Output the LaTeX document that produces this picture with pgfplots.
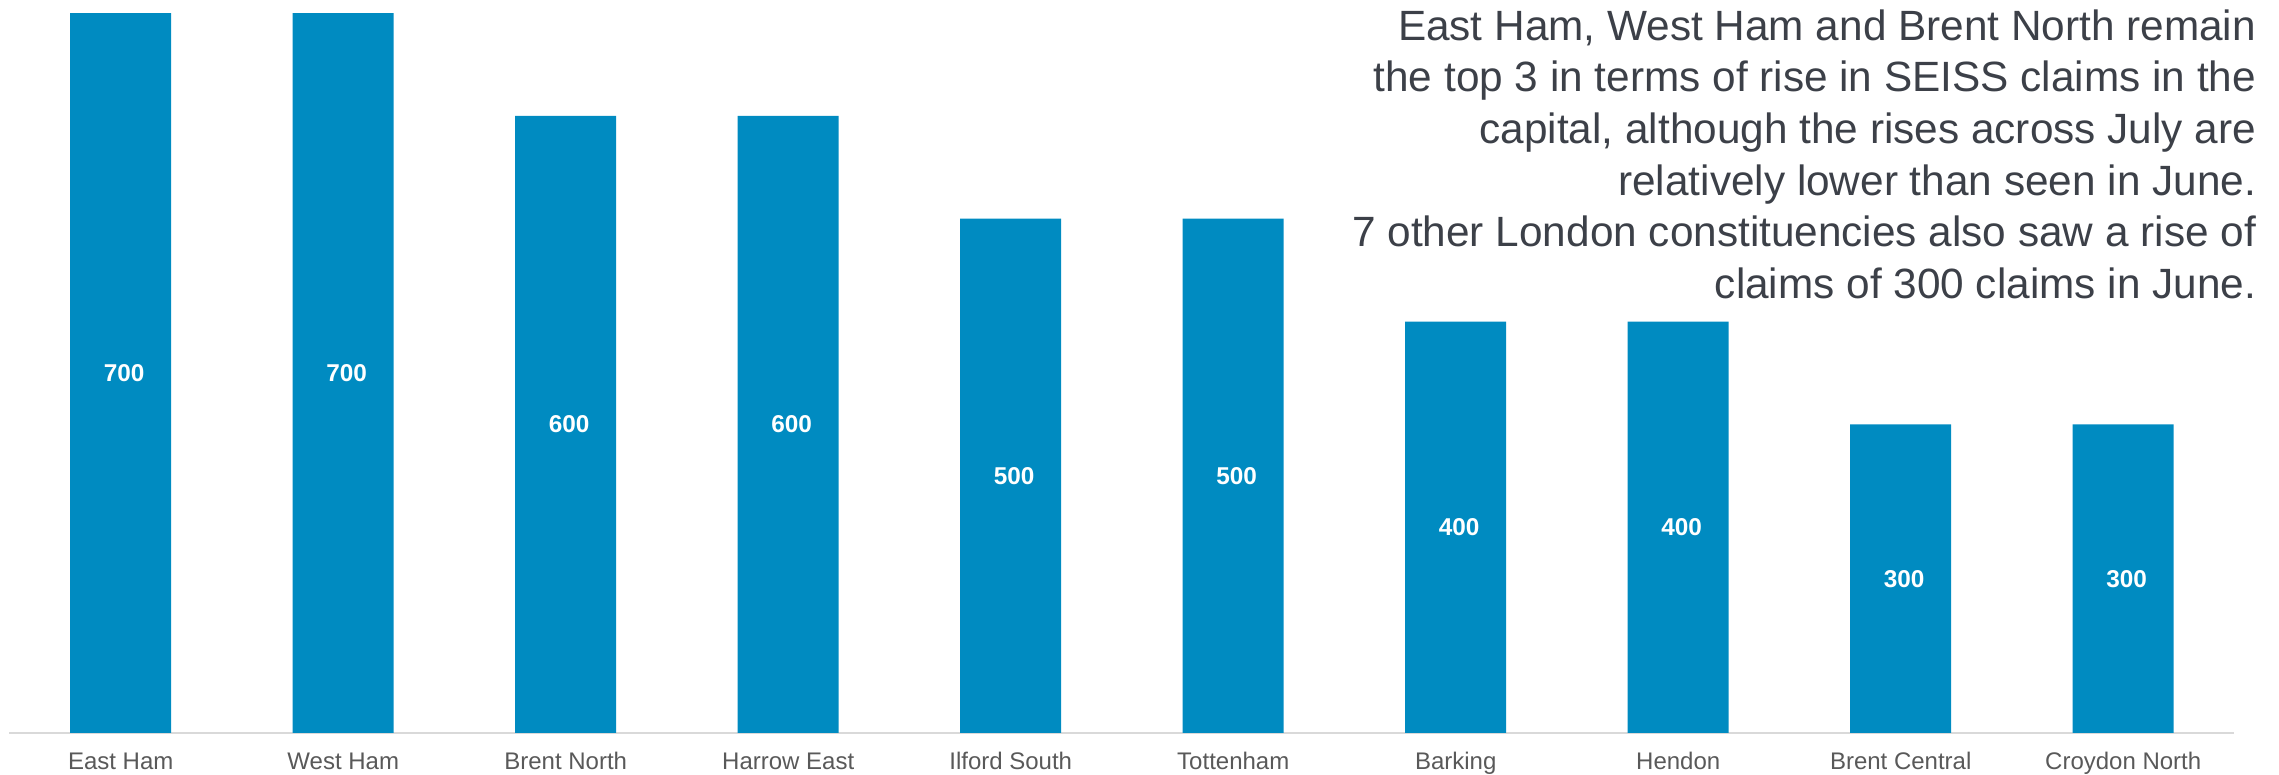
\documentclass[border=0pt]{standalone}
\usepackage{pgfplots}
\pgfplotsset{compat=1.18}
\usepackage{fontspec}
\setmainfont{Liberation Sans}
\definecolor{barblue}{HTML}{008BC1}
\definecolor{ticklab}{HTML}{595959}
\definecolor{annot}{HTML}{3C4048}
\definecolor{baseln}{HTML}{D9D9D9}
\begin{document}
\begin{tikzpicture}
\path[use as bounding box] (0,0) rectangle (683.7pt,232.5pt);
\begin{axis}[
  at={(2.85pt,12.6pt)}, anchor=south west,
  scale only axis, width=667.5pt, height=216pt,
  xmin=-0.5, xmax=9.5, ymin=0, ymax=700,
  clip=false,
  axis x line*=bottom, axis y line=none,
  axis line style={draw=baseln, line width=0.8pt, -},
  xtick=data,
  xticklabels={East Ham,West Ham,Brent North,Harrow East,Ilford South,Tottenham,Barking,Hendon,Brent Central,Croydon North},
  major tick length=0pt,
  x tick label style={font=\fontsize{7.2}{8.6}\selectfont, text=ticklab, anchor=base, inner sep=0pt, yshift=-11.1pt},
  ybar, bar width=30.3pt,
  /pgf/number format/assume math mode=true,
  visualization depends on={y/2 \as \halfy},
  nodes near coords,
  every node near coord/.append style={anchor=center, shift={(axis direction cs:0,-\halfy)}, xshift=1pt, font=\fontsize{7.3}{8.7}\selectfont\bfseries, text=white},
]
\addplot[fill=barblue, draw=none] coordinates {
  (0,700) (1,700) (2,600) (3,600) (4,500) (5,500) (6,400) (7,400) (8,300) (9,300)
};
\end{axis}
\node[anchor=north east, align=right, inner sep=0pt, text=annot, font=\fontsize{12.7}{15.5}\selectfont] at (677pt,229.8pt)
{East Ham, West Ham and Brent North remain\\the top 3 in terms of rise in SEISS claims in the\\capital, although the rises across July are\\relatively lower than seen in June.\\7 other London constituencies also saw a rise of\\claims of 300 claims in June.};
\end{tikzpicture}
\end{document}
